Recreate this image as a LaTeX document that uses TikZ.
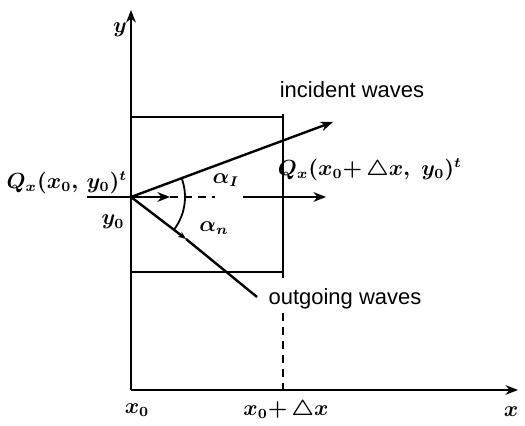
\documentclass[tikz,border=0pt]{standalone}
\usepackage{fontspec}
\usepackage{amsmath}
\usepackage{tikz}
\usetikzlibrary{arrows.meta,positioning,calc}
\newfontfamily\wavefont{Liberation Sans}

\begin{document}
\begin{tikzpicture}[x=0.5pt, y=0.5pt,
  ln/.style={line width=1.2pt},
  arr/.style={-{Stealth[length=2.2mm, width=1.7mm]}, line width=1.2pt},
  smallarr/.style={-{Stealth[length=1.4mm, width=1.1mm]}, line width=1.2pt},
  dashln/.style={line width=1.2pt, dash pattern=on 4pt off 3pt},
  mlabel/.style={font=\fontsize{10.5}{12}\selectfont\boldmath, inner sep=1pt},
  wlabel/.style={font=\wavefont\fontsize{11}{13}\selectfont, inner sep=1pt}
]
  \useasboundingbox (0,0) rectangle (525,426);

  % axes
  \coordinate (o)    at (131,36);
  \coordinate (ytip) at (131,416);
  \coordinate (xtip) at (518,36);
  \draw[arr] (o) -- (ytip);
  \draw[arr] (o) -- (xtip);
  \node[mlabel] (ylab) at (120,396) {$y$};
  \node[mlabel] (xlab) at (511,14) {$x$};
  \node[mlabel] (x0lab) at (137,16) {$x_0$};
  \node[mlabel] (x1lab) at (286,16) {$x_0{+}\,\triangle x$};

  % control volume
  \coordinate (tl) at (131,309);
  \coordinate (bl) at (131,154);
  \coordinate (rt) at (283,312);
  \coordinate (rb) at (283,148);
  \draw[ln] (tl) -- (tl -| rt);
  \draw[ln] (bl) -- (bl -| rt);
  \draw[ln] (rt) -- (rb);
  \coordinate (dtop) at (283,113);
  \coordinate (dbot) at (283,36);
  \draw[dashln] (dtop) -- (dbot);

  % waves at (x0,y0)
  \coordinate (p)   at (131,229);
  \coordinate (inc) at (333,304);
  \coordinate (om)  at (186,187);
  \coordinate (oe)  at (257,129);
  \draw[arr] (p) -- (inc);
  \draw[smallarr] (p) -- (om);
  \draw[ln] (om) -- (oe);
  \draw[line width=0.9pt] ($(p)+(21:54)$) arc[start angle=21, end angle=-37, radius=54];

  % fluxes
  \coordinate (qin)  at (87,229);
  \coordinate (qa)   at (170,229);
  \coordinate (qb)   at (215,229);
  \coordinate (qc)   at (243,229);
  \coordinate (qout) at (326,229);
  \draw[arr] (qin) -- (qa);
  \draw[dashln] (qa) -- (qb);
  \draw[arr] (qc) -- (qout);

  \node[mlabel] (qleft)  at (67,243)  {$Q_x(x_0,\,y_0)^t$};
  \node[mlabel] (y0lab)  at (113,204) {$y_0$};
  \node[mlabel] (qright) at (370,256) {$Q_x(x_0{+}\,\triangle x,\;y_0)^t$};
  \node[mlabel] (ai)     at (226,246) {$\alpha_I$};
  \node[mlabel] (an)     at (214,198) {$\alpha_n$};
  \node[wlabel] (incl)   at (352,336) {incident waves};
  \node[wlabel] (outl)   at (345,127) {outgoing waves};
\end{tikzpicture}
\end{document}
